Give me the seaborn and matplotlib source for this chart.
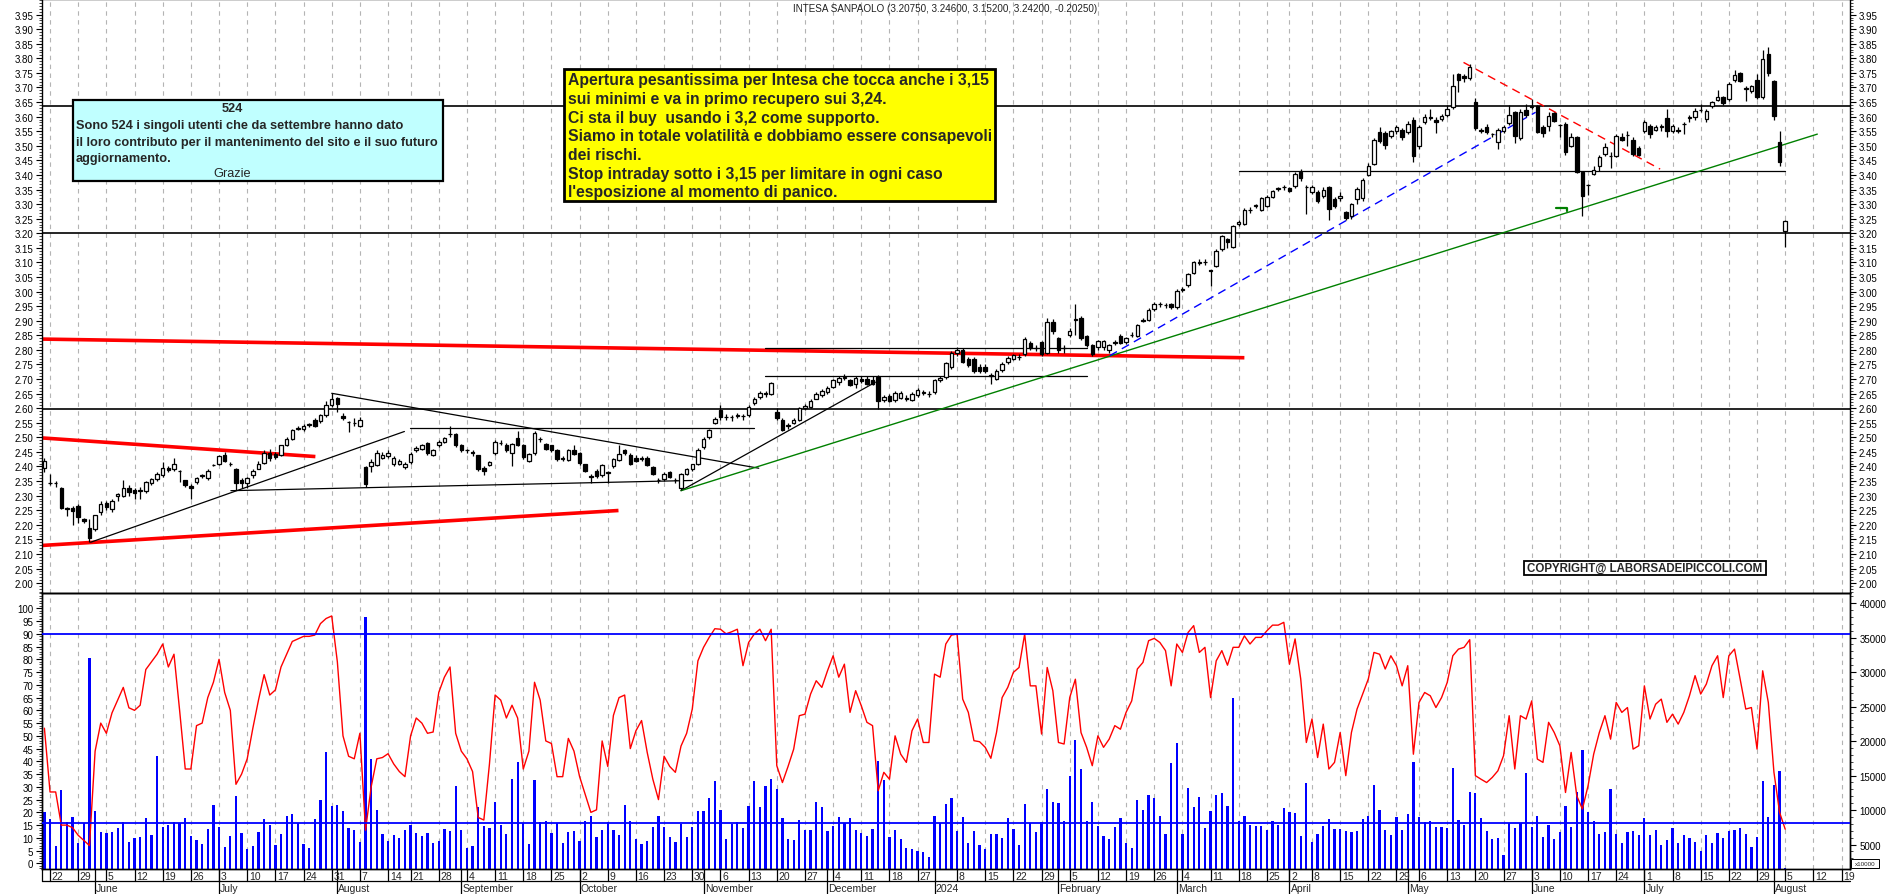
import numpy as np
import pandas as pd
import matplotlib
matplotlib.use("Agg")
import matplotlib.pyplot as plt
import matplotlib.transforms as mtrans
from matplotlib.patches import Rectangle
from matplotlib.ticker import FixedLocator, MultipleLocator, FormatStrFormatter
from matplotlib import font_manager
import seaborn as sns

# ---------------- dati ----------------
start_day, last_day, future_end = "2023-05-19", "2024-08-05", "2024-08-19"
holidays = ["2023-08-15", "2023-12-25", "2023-12-26", "2024-01-01",
            "2024-03-29", "2024-04-01", "2024-05-01"]

opens = [
    2.395, 2.345, 2.345, 2.325, 2.258, 2.258, 2.264, 2.22, 2.19, 2.187,
    2.243, 2.274, 2.254, 2.298, 2.30, 2.327, 2.318, 2.317, 2.315, 2.344,
    2.358, 2.372, 2.394, 2.393, 2.385, 2.352, 2.333, 2.348, 2.366, 2.36,
    2.404, 2.41, 2.44, 2.41, 2.392, 2.352, 2.343, 2.371, 2.392, 2.412,
    2.447, 2.443, 2.441, 2.475, 2.495, 2.53, 2.527, 2.543, 2.561, 2.555,
    2.578, 2.612, 2.634, 2.572, 2.553, 2.55, 2.538, 2.398, 2.40, 2.406,
    2.43, 2.436, 2.41, 2.41, 2.398, 2.415, 2.455, 2.46, 2.481, 2.44,
    2.472, 2.483, 2.51, 2.512, 2.474, 2.456, 2.448, 2.438, 2.394, 2.406,
    2.447, 2.48, 2.472, 2.447, 2.497, 2.474, 2.42, 2.447, 2.495, 2.478,
    2.472, 2.455, 2.428, 2.423, 2.458, 2.447, 2.409, 2.369, 2.383, 2.372,
    2.38, 2.401, 2.423, 2.455, 2.438, 2.43, 2.43, 2.429, 2.398, 2.353,
    2.358, 2.38, 2.355, 2.326, 2.375, 2.392, 2.409, 2.466, 2.501, 2.55,
    2.595, 2.57, 2.568, 2.574, 2.573, 2.575, 2.618, 2.638, 2.651, 2.649,
    2.586, 2.561, 2.54, 2.55, 2.558, 2.601, 2.604, 2.632, 2.646, 2.655,
    2.672, 2.689, 2.703, 2.695, 2.684, 2.701, 2.701, 2.695, 2.706, 2.629,
    2.641, 2.629, 2.634, 2.633, 2.629, 2.644, 2.653, 2.65, 2.655, 2.695,
    2.706, 2.741, 2.79, 2.798, 2.769, 2.769, 2.741, 2.741, 2.71, 2.701,
    2.731, 2.758, 2.769, 2.774, 2.786, 2.823, 2.805, 2.826, 2.79, 2.897,
    2.84, 2.805, 2.852, 2.903, 2.909, 2.847, 2.817, 2.809, 2.809, 2.798,
    2.825, 2.847, 2.826, 2.851, 2.849, 2.90, 2.904, 2.941, 2.957, 2.953,
    2.958, 2.946, 3.006, 3.022, 3.064, 3.099, 3.101, 3.074, 3.089, 3.146,
    3.18, 3.152, 3.231, 3.232, 3.28, 3.294, 3.281, 3.295, 3.323, 3.353,
    3.359, 3.354, 3.361, 3.411, 3.357, 3.34, 3.343, 3.329, 3.358, 3.318,
    3.32, 3.272, 3.258, 3.318, 3.32, 3.401, 3.438, 3.549, 3.544, 3.533,
    3.55, 3.554, 3.546, 3.59, 3.50, 3.583, 3.597, 3.59, 3.592, 3.606,
    3.632, 3.746, 3.74, 3.733, 3.649, 3.553, 3.565, 3.541, 3.512, 3.552,
    3.578, 3.615, 3.527, 3.623, 3.634, 3.635, 3.563, 3.569, 3.611, 3.572,
    3.575, 3.50, 3.529, 3.411, 3.366, 3.403, 3.43, 3.472, 3.465, 3.464,
    3.529, 3.536, 3.521, 3.491, 3.552, 3.569, 3.555, 3.565, 3.595, 3.552,
    3.553, 3.574, 3.597, 3.598, 3.622, 3.592, 3.638, 3.658, 3.666, 3.661,
    3.727, 3.75, 3.696, 3.689, 3.726, 3.666, 3.815, 3.723, 3.512, 3.2075,
]
highs = [
    2.43, 2.375, 2.35, 2.328, 2.262, 2.265, 2.27, 2.222, 2.22, 2.235,
    2.28, 2.28, 2.29, 2.31, 2.352, 2.338, 2.325, 2.33, 2.35, 2.36,
    2.38, 2.415, 2.40, 2.428, 2.388, 2.355, 2.34, 2.365, 2.375, 2.39,
    2.41, 2.44, 2.45, 2.415, 2.395, 2.36, 2.363, 2.39, 2.42, 2.455,
    2.46, 2.45, 2.475, 2.50, 2.53, 2.54, 2.545, 2.55, 2.565, 2.58,
    2.623, 2.651, 2.638, 2.583, 2.556, 2.565, 2.57, 2.40, 2.425, 2.455,
    2.45, 2.455, 2.435, 2.425, 2.415, 2.45, 2.47, 2.478, 2.485, 2.46,
    2.49, 2.50, 2.54, 2.515, 2.478, 2.46, 2.455, 2.44, 2.40, 2.42,
    2.49, 2.49, 2.48, 2.48, 2.52, 2.478, 2.445, 2.523, 2.50, 2.482,
    2.475, 2.46, 2.435, 2.46, 2.475, 2.45, 2.41, 2.375, 2.39, 2.41,
    2.385, 2.43, 2.475, 2.46, 2.445, 2.44, 2.435, 2.435, 2.40, 2.36,
    2.38, 2.385, 2.36, 2.378, 2.395, 2.41, 2.462, 2.50, 2.53, 2.57,
    2.61, 2.58, 2.575, 2.585, 2.58, 2.61, 2.64, 2.66, 2.66, 2.69,
    2.60, 2.565, 2.55, 2.565, 2.605, 2.615, 2.63, 2.655, 2.665, 2.675,
    2.70, 2.71, 2.718, 2.70, 2.71, 2.712, 2.712, 2.712, 2.715, 2.645,
    2.648, 2.66, 2.66, 2.645, 2.655, 2.67, 2.664, 2.66, 2.70, 2.71,
    2.76, 2.795, 2.81, 2.805, 2.775, 2.775, 2.75, 2.75, 2.72, 2.735,
    2.76, 2.78, 2.785, 2.785, 2.845, 2.83, 2.815, 2.83, 2.91, 2.905,
    2.845, 2.815, 2.875, 2.958, 2.915, 2.85, 2.82, 2.835, 2.835, 2.82,
    2.835, 2.855, 2.845, 2.86, 2.89, 2.91, 2.945, 2.965, 2.965, 2.962,
    2.962, 3.01, 3.015, 3.065, 3.105, 3.11, 3.11, 3.075, 3.145, 3.195,
    3.185, 3.23, 3.245, 3.285, 3.29, 3.30, 3.325, 3.33, 3.35, 3.36,
    3.365, 3.36, 3.41, 3.42, 3.365, 3.365, 3.35, 3.36, 3.362, 3.325,
    3.34, 3.278, 3.305, 3.36, 3.39, 3.44, 3.525, 3.565, 3.55, 3.555,
    3.57, 3.56, 3.585, 3.60, 3.57, 3.61, 3.625, 3.60, 3.61, 3.64,
    3.745, 3.75, 3.745, 3.78, 3.665, 3.56, 3.575, 3.545, 3.56, 3.57,
    3.64, 3.62, 3.625, 3.645, 3.66, 3.64, 3.57, 3.615, 3.615, 3.575,
    3.58, 3.545, 3.535, 3.415, 3.37, 3.43, 3.47, 3.51, 3.48, 3.54,
    3.545, 3.55, 3.53, 3.50, 3.59, 3.575, 3.57, 3.575, 3.625, 3.575,
    3.565, 3.58, 3.605, 3.63, 3.645, 3.625, 3.655, 3.69, 3.67, 3.72,
    3.76, 3.752, 3.705, 3.71, 3.745, 3.83, 3.84, 3.725, 3.55, 3.246,
]
lows = [
    2.38, 2.335, 2.33, 2.255, 2.23, 2.198, 2.205, 2.205, 2.14, 2.18,
    2.235, 2.25, 2.245, 2.28, 2.295, 2.30, 2.29, 2.29, 2.31, 2.338,
    2.35, 2.365, 2.38, 2.385, 2.348, 2.33, 2.287, 2.34, 2.36, 2.355,
    2.40, 2.405, 2.415, 2.40, 2.32, 2.326, 2.325, 2.36, 2.39, 2.41,
    2.42, 2.425, 2.435, 2.47, 2.49, 2.525, 2.52, 2.535, 2.535, 2.55,
    2.57, 2.605, 2.588, 2.56, 2.518, 2.54, 2.535, 2.33, 2.38, 2.40,
    2.425, 2.43, 2.40, 2.405, 2.39, 2.41, 2.45, 2.455, 2.44, 2.435,
    2.468, 2.48, 2.50, 2.468, 2.45, 2.445, 2.435, 2.385, 2.37, 2.40,
    2.44, 2.475, 2.45, 2.40, 2.47, 2.425, 2.415, 2.44, 2.485, 2.455,
    2.45, 2.42, 2.42, 2.42, 2.44, 2.405, 2.38, 2.345, 2.36, 2.365,
    2.345, 2.395, 2.42, 2.44, 2.405, 2.415, 2.42, 2.40, 2.37, 2.345,
    2.35, 2.36, 2.345, 2.318, 2.37, 2.385, 2.405, 2.46, 2.495, 2.545,
    2.56, 2.56, 2.555, 2.565, 2.56, 2.57, 2.61, 2.63, 2.64, 2.645,
    2.56, 2.52, 2.53, 2.545, 2.555, 2.595, 2.60, 2.63, 2.64, 2.65,
    2.67, 2.68, 2.695, 2.675, 2.67, 2.688, 2.68, 2.68, 2.598, 2.62,
    2.62, 2.62, 2.63, 2.625, 2.625, 2.64, 2.645, 2.64, 2.65, 2.69,
    2.70, 2.735, 2.78, 2.755, 2.74, 2.72, 2.72, 2.72, 2.684, 2.695,
    2.725, 2.75, 2.765, 2.765, 2.78, 2.80, 2.795, 2.78, 2.785, 2.855,
    2.79, 2.79, 2.845, 2.85, 2.835, 2.81, 2.78, 2.80, 2.80, 2.79,
    2.815, 2.82, 2.82, 2.845, 2.845, 2.895, 2.90, 2.935, 2.948, 2.945,
    2.94, 2.94, 3.0, 3.015, 3.06, 3.09, 3.09, 3.02, 3.085, 3.14,
    3.15, 3.15, 3.225, 3.228, 3.27, 3.285, 3.275, 3.29, 3.32, 3.345,
    3.35, 3.34, 3.355, 3.38, 3.266, 3.335, 3.305, 3.32, 3.246, 3.285,
    3.31, 3.245, 3.25, 3.30, 3.31, 3.395, 3.435, 3.51, 3.49, 3.525,
    3.54, 3.52, 3.54, 3.445, 3.49, 3.575, 3.59, 3.545, 3.585, 3.60,
    3.625, 3.685, 3.72, 3.725, 3.555, 3.545, 3.54, 3.53, 3.49, 3.545,
    3.57, 3.51, 3.52, 3.60, 3.625, 3.545, 3.53, 3.55, 3.58, 3.53,
    3.47, 3.495, 3.405, 3.26, 3.33, 3.40, 3.415, 3.465, 3.425, 3.46,
    3.515, 3.50, 3.465, 3.465, 3.545, 3.525, 3.55, 3.55, 3.53, 3.545,
    3.545, 3.54, 3.58, 3.59, 3.615, 3.58, 3.63, 3.655, 3.64, 3.655,
    3.72, 3.72, 3.655, 3.68, 3.66, 3.66, 3.74, 3.59, 3.43, 3.152,
]
closes = [
    2.418, 2.342, 2.343, 2.258, 2.255, 2.248, 2.225, 2.212, 2.155, 2.232,
    2.27, 2.262, 2.283, 2.306, 2.325, 2.313, 2.31, 2.318, 2.348, 2.357,
    2.375, 2.395, 2.388, 2.41, 2.383, 2.335, 2.327, 2.36, 2.371, 2.386,
    2.406, 2.437, 2.418, 2.408, 2.343, 2.344, 2.36, 2.384, 2.409, 2.446,
    2.43, 2.433, 2.472, 2.495, 2.526, 2.532, 2.54, 2.544, 2.54, 2.577,
    2.611, 2.632, 2.615, 2.566, 2.552, 2.549, 2.561, 2.341, 2.417, 2.446,
    2.44, 2.447, 2.428, 2.42, 2.41, 2.443, 2.464, 2.472, 2.447, 2.455,
    2.483, 2.497, 2.512, 2.472, 2.458, 2.455, 2.447, 2.392, 2.386, 2.415,
    2.485, 2.481, 2.455, 2.478, 2.472, 2.432, 2.443, 2.514, 2.494, 2.46,
    2.458, 2.426, 2.427, 2.455, 2.443, 2.411, 2.386, 2.363, 2.367, 2.406,
    2.377, 2.424, 2.443, 2.447, 2.409, 2.42, 2.425, 2.404, 2.373, 2.352,
    2.373, 2.364, 2.354, 2.375, 2.39, 2.407, 2.458, 2.495, 2.524, 2.564,
    2.568, 2.569, 2.569, 2.575, 2.572, 2.604, 2.632, 2.653, 2.65, 2.687,
    2.566, 2.526, 2.541, 2.561, 2.601, 2.606, 2.626, 2.649, 2.66, 2.669,
    2.696, 2.703, 2.706, 2.678, 2.703, 2.692, 2.684, 2.684, 2.626, 2.64,
    2.626, 2.653, 2.653, 2.632, 2.647, 2.661, 2.655, 2.649, 2.695, 2.704,
    2.754, 2.789, 2.80, 2.758, 2.749, 2.726, 2.726, 2.726, 2.714, 2.729,
    2.752, 2.773, 2.781, 2.775, 2.838, 2.806, 2.806, 2.786, 2.895, 2.863,
    2.798, 2.806, 2.866, 2.904, 2.84, 2.817, 2.786, 2.829, 2.829, 2.815,
    2.826, 2.824, 2.84, 2.852, 2.886, 2.901, 2.938, 2.957, 2.958, 2.954,
    2.946, 3.003, 3.007, 3.06, 3.10, 3.10, 3.10, 3.07, 3.14, 3.19,
    3.17, 3.226, 3.24, 3.28, 3.281, 3.295, 3.32, 3.323, 3.346, 3.354,
    3.36, 3.346, 3.403, 3.388, 3.358, 3.358, 3.312, 3.35, 3.283, 3.293,
    3.329, 3.251, 3.30, 3.352, 3.381, 3.432, 3.52, 3.518, 3.504, 3.55,
    3.563, 3.529, 3.575, 3.464, 3.566, 3.598, 3.598, 3.58, 3.601, 3.626,
    3.704, 3.727, 3.734, 3.771, 3.56, 3.552, 3.548, 3.54, 3.554, 3.563,
    3.606, 3.532, 3.615, 3.606, 3.635, 3.549, 3.544, 3.601, 3.586, 3.571,
    3.478, 3.529, 3.409, 3.329, 3.367, 3.418, 3.46, 3.495, 3.464, 3.533,
    3.521, 3.537, 3.472, 3.469, 3.58, 3.54, 3.563, 3.566, 3.55, 3.569,
    3.552, 3.575, 3.598, 3.62, 3.623, 3.62, 3.649, 3.666, 3.647, 3.712,
    3.743, 3.723, 3.697, 3.704, 3.669, 3.798, 3.75, 3.603, 3.446, 3.242,
]
rsi = [
    53, 28, 28, 15, 15, 14, 11, 9, 7, 44,
    55, 51, 59, 64, 69, 61, 60, 62, 76, 79,
    82, 86, 77, 82, 60, 37, 37, 54, 55, 65,
    71, 80, 67, 60, 31, 35, 41, 53, 64, 74,
    66, 68, 77, 82, 87, 88, 89, 89, 89.5, 94,
    96, 97, 79, 50, 42, 41, 51, 13, 30, 41,
    41.5, 43, 39, 36, 34, 50, 57, 55, 51, 51.5,
    67, 73, 77, 51, 44, 41, 36, 18, 17, 39,
    66, 64, 57, 62, 57, 37, 44, 71, 64, 48,
    47, 34, 34, 49, 44, 34, 27, 20, 21, 48,
    38, 58, 65, 66, 45, 52, 56, 43.5, 33, 25,
    42, 38, 35.7, 46, 51, 60.5, 79.4, 84.7, 88.6, 92,
    91.8, 90, 90.8, 91.8, 77.5, 86.6, 89.9, 91.8, 87.3, 91.8,
    38.3, 31.7, 38, 44.8, 57.9, 58.5, 66.4, 71.6, 69, 75.5,
    81.4, 73, 78.1, 59.2, 67.7, 61.8, 55.3, 54, 28.5, 35.7,
    33, 50, 42.8, 39.6, 52, 56.6, 47.4, 47.4, 74.2, 73,
    86, 89.5, 89.9, 64.4, 59.2, 48.1, 47.7, 45.5, 41.2, 51.3,
    65, 69, 74.9, 76.8, 89.9, 69.6, 69.6, 50.7, 76.8, 67.7,
    47.4, 46.8, 65, 72.2, 51.3, 45.5, 38.3, 50, 45.5, 48.7,
    54, 52.6, 59.2, 63.7, 76.2, 78.8, 87.3, 88.2, 86.6, 83.4,
    69.6, 86, 82.7, 90.5, 93.2, 82.7, 84.7, 65, 79.4, 83.4,
    77.7, 84.7, 84.7, 89.2, 86, 88.6, 88.6, 91.2, 93.4, 93.4,
    94.5, 78.1, 88, 72.3, 47.4, 56.6, 41.5, 54.6, 37, 39.6,
    51.3, 34.4, 51.3, 60.5, 66.4, 72.3, 82.7, 82, 76.2, 81.4,
    77.5, 69.6, 77.5, 42.8, 63.1, 67, 65.7, 61.1, 65, 70.9,
    81.4, 84, 84.7, 87.7, 34.4, 33, 31.7, 33.7, 36.3, 42.2,
    57.9, 37, 57.9, 56.6, 63.7, 40.9, 39.6, 55.3, 51.3, 46.1,
    27.8, 43.5, 26.5, 21.3, 30.4, 42.8, 51.3, 57.9, 48.7, 63.1,
    59.2, 61.1, 44.8, 46.1, 69.6, 56.6, 62.4, 64.4, 55.3, 58.5,
    54.6, 59.2, 65.7, 73.6, 66.4, 70.3, 77.5, 81.4, 65, 81.4,
    84, 72.3, 60.5, 61.1, 44.8, 75.5, 63.1, 35.7, 20, 13.4,
]
volume = [
    9670, 8700, 4840, 12950, 8310, 9040, 5220, 8120, 31980, 9910,
    6870, 6620, 6870, 7400, 8220, 5420, 6000, 6140, 8850, 6430,
    17780, 7490, 7880, 8220, 8120, 8850, 6290, 5710, 5080, 7250,
    10730, 7490, 4690, 6290, 12080, 6670, 4350, 4790, 6870, 8700,
    7830, 4930, 6530, 9090, 9420, 8070, 5030, 4450, 8700, 11450,
    18460, 10540, 10730, 9860, 7400, 7160, 5320, 38000, 17390, 10000,
    6480, 5560, 6380, 5900, 7110, 7830, 6720, 6290, 6620, 5170,
    5560, 7250, 7010, 13430, 7160, 4450, 4840, 10490, 7730, 7400,
    11120, 7830, 6530, 14500, 16910, 8120, 5080, 14350, 8310, 8410,
    6720, 8120, 5220, 6770, 6960, 5560, 8360, 9090, 6040, 7110,
    8220, 7160, 6380, 10730, 8360, 5800, 5080, 5560, 7490, 9090,
    7490, 6040, 5420, 7970, 6140, 7490, 9810, 9810, 11690, 14160,
    10000, 5800, 7970, 8220, 7400, 10540, 14160, 10390, 13530, 14500,
    13050, 8800, 5800, 5660, 8560, 7110, 7160, 11210, 10390, 6960,
    7640, 9040, 8070, 8800, 7060, 6670, 6290, 7250, 17150, 14350,
    6040, 7110, 5800, 4450, 4350, 4020, 3870, 3240, 9180, 8070,
    10870, 11740, 7010, 8940, 5220, 6960, 4930, 4350, 6530, 6530,
    5950, 8850, 7250, 4930, 10870, 8120, 6770, 8310, 13050, 11210,
    10970, 8360, 14880, 20150, 15950, 8360, 11210, 7640, 6290, 5800,
    7490, 8850, 5170, 4450, 11450, 10000, 12230, 11740, 9180, 6530,
    16810, 19710, 6530, 13190, 10490, 11840, 7350, 9810, 12230, 12420,
    10630, 26190, 8460, 9090, 7880, 7640, 7640, 7160, 8360, 7830,
    10250, 9760, 9570, 6290, 13920, 5420, 6530, 7730, 8700, 7250,
    7250, 7010, 6770, 6960, 8700, 9180, 13630, 10000, 7110, 6430,
    8940, 7110, 9420, 17010, 8940, 8310, 8360, 7490, 7490, 7350,
    16090, 8560, 7830, 12660, 12470, 8850, 6960, 5800, 5950, 3480,
    8120, 7350, 8070, 15370, 7490, 9180, 6140, 7830, 5800, 6770,
    10540, 7490, 12660, 18700, 9760, 8460, 6530, 6770, 13050, 6530,
    5220, 6770, 7010, 6380, 8850, 6430, 7110, 4980, 5660, 7350,
    5170, 6430, 5950, 5320, 4020, 6430, 5170, 6620, 5950, 7010,
    7110, 7350, 6530, 4690, 6040, 14160, 9040, 13630, 15610, 1550,
]

# livelli orizzontali e trendline (giorno di borsa, prezzo)
full_levels = [3.637, 3.20, 2.598]
thin_black = [
    (8.2, 2.140, 63.9, 2.520),
    (33.1, 2.317, 115.0, 2.352),
    (51.0, 2.651, 126.8, 2.394),
    (64.9, 2.532, 125.9, 2.532),
    (113.0, 2.317, 147.5, 2.689),
    (127.9, 2.712, 185.0, 2.712),
    (127.9, 2.806, 185.0, 2.806),
    (212.0, 3.415, 309.0, 3.415),
]
thick_red = [
    (-0.5, 2.837, 213.0, 2.773),
    (-0.5, 2.498, 48.1, 2.434),
    (-0.5, 2.129, 101.9, 2.249),
]
green_line = (113.0, 2.317, 314.7, 3.540)
blue_dashed = (189.1, 2.780, 264.7, 3.615)
red_dashed = (251.9, 3.786, 286.8, 3.420)
rsi_levels = [90, 15.7]

title = "INTESA SANPAOLO (3.20750, 3.24600, 3.15200, 3.24200, -0.20250)"
box_cyan = ["524",
            "Sono 524 i singoli utenti che da settembre hanno dato",
            "il loro contributo per il mantenimento del sito e il suo futuro",
            "aggiornamento.",
            "Grazie"]
box_yellow = ["Apertura pesantissima per Intesa che tocca anche i 3,15",
              "sui minimi e va in primo recupero sui 3,24.",
              "Ci sta il buy  usando i 3,2 come supporto.",
              "Siamo in totale volatilità e dobbiamo essere consapevoli",
              "dei rischi.",
              "Stop intraday sotto i 3,15 per limitare in ogni caso",
              "l'esposizione al momento di panico."]
copyright_txt = "COPYRIGHT@ LABORSADEIPICCOLI.COM"

# ---------------- calendario ----------------
days = pd.bdate_range(start_day, last_day)
days = days[~days.isin(pd.to_datetime(holidays))]
future = pd.bdate_range(pd.Timestamp(last_day) + pd.Timedelta(days=1), future_end)
all_days = days.append(future)
n = len(days)
idx = np.arange(n)
assert len(opens) == len(highs) == len(lows) == len(closes) == len(rsi) == len(volume) == n

week_starts, month_starts = [], []
for i in range(1, len(all_days)):
    d, p = all_days[i], all_days[i - 1]
    if d.month != p.month:
        month_starts.append((i, "2024" if d.year != p.year else d.strftime("%B")))
    if d.weekday() < p.weekday() and d.year == p.year:
        week_starts.append((i, str(d.day)))

# ---------------- stile ----------------
sns.set_theme(style="white")
plt.rcParams['font.family'] = ['Liberation Sans', 'DejaVu Sans']
avail = {f.name for f in font_manager.fontManager.ttflist}
narrow = 'Liberation Sans Narrow' in avail

W, H = 1890, 895
X0, X1 = 41.7, 1850
fig = plt.figure(figsize=(W / 100, H / 100), dpi=100)
fig.patch.set_facecolor("white")
ax = fig.add_axes([X0 / W, 1 - 594 / H, (X1 - X0) / W, 594 / H])
ax_r = fig.add_axes([X0 / W, 1 - 870 / H, (X1 - X0) / W, 276 / H])
ax_v = ax_r.twinx()
xlim = (-0.48, 320.5)

grid_kw = dict(color="#b4b4b4", lw=0.8, ls=(0, (4, 4)), zorder=0)

# ---- pannello prezzi ----
for i, _ in week_starts:
    ax.axvline(i, **grid_kw)
for y in full_levels:
    ax.axhline(y, color="black", lw=1.2, zorder=2)
for x0, y0, x1, y1 in thick_red:
    ax.plot([x0, x1], [y0, y1], color="#ff0000", lw=2.6, solid_capstyle="butt", zorder=2)
for x0, y0, x1, y1 in thin_black:
    ax.plot([x0, x1], [y0, y1], color="black", lw=0.9, zorder=2)
ax.plot(green_line[::2], green_line[1::2], color="#008000", lw=1.0, zorder=2)
ax.plot(blue_dashed[::2], blue_dashed[1::2], color="#0000ff", lw=1.0, ls=(0, (6, 4)), zorder=2)
ax.plot(red_dashed[::2], red_dashed[1::2], color="#ff0000", lw=1.0, ls=(0, (6, 4)), zorder=2)
ax.plot([268.3, 270.3, 270.3], [3.287, 3.287, 3.276], color="#008000", lw=1.6, zorder=3)

o, h, l, c = map(np.array, (opens, highs, lows, closes))
up = c >= o
ax.vlines(idx, l, h, color="black", lw=0.9, zorder=3)
body = np.maximum(np.abs(c - o), 0.0012)
ax.bar(idx, body, bottom=np.minimum(o, c), width=0.62,
       color=np.where(up, "white", "black"), edgecolor="black", linewidth=0.9, zorder=4)

ax.set_xlim(*xlim)
ax.set_ylim(1.966, 4.0035)
ax.yaxis.set_major_locator(FixedLocator(np.round(np.arange(2.0, 3.951, 0.05), 2)))
ax.yaxis.set_major_formatter(FormatStrFormatter("%.2f"))
ax.yaxis.set_minor_locator(MultipleLocator(0.01))
ax.tick_params(axis="y", which="major", direction="out", length=4, width=0.8,
               left=True, right=True, labelleft=True, labelright=True,
               labelsize=7, pad=2, colors="black")
ax.tick_params(axis="y", which="minor", direction="out", length=2, width=0.6,
               left=True, right=True)
ax.set_xticks([])

# ---- pannello RSI / volumi ----
for i, _ in week_starts:
    ax_v.axvline(i, **grid_kw)
sns.barplot(x=idx, y=volume, native_scale=True, width=0.4, color="#0000ff",
            saturation=1, errorbar=None, linewidth=0, ax=ax_v, zorder=2)
sns.lineplot(x=idx, y=rsi, color="#ff0000", lw=1.0, ax=ax_r, zorder=3)
for y in rsi_levels:
    ax_r.axhline(y, color="#0000ff", lw=1.3, zorder=4)

ax_r.set_zorder(ax_v.get_zorder() + 1)
ax_r.patch.set_visible(False)
ax_v.patch.set_facecolor("white")

for a in (ax_r, ax_v):
    a.set_xlim(*xlim)
    a.set_xticks([])
    a.set_xlabel("")
    a.set_ylabel("")
ax_r.set_ylim(-2.2, 106)
ax_v.set_ylim(1450, 41450)
ax_r.yaxis.set_major_locator(FixedLocator(np.arange(0, 101, 5)))
ax_r.yaxis.set_minor_locator(MultipleLocator(1))
ax_r.tick_params(axis="y", which="major", direction="out", length=4, width=0.8,
                 left=True, right=False, labelsize=7, pad=2, colors="black")
ax_r.tick_params(axis="y", which="minor", direction="out", length=2, width=0.6,
                 left=True, right=False)
ax_v.yaxis.set_major_locator(FixedLocator(np.arange(5000, 40001, 5000)))
ax_v.yaxis.set_minor_locator(MultipleLocator(1000))
ax_v.tick_params(axis="y", which="major", direction="out", length=4, width=0.8,
                 left=False, right=True, labelright=True, labelleft=False,
                 labelsize=7, pad=3, colors="black")
ax_v.tick_params(axis="y", which="minor", direction="out", length=2, width=0.6,
                 left=False, right=True)

for a in (ax, ax_r, ax_v):
    for s in a.spines.values():
        s.set_visible(True)
        s.set_color("black")
        s.set_linewidth(1.0)

# ---- asse date ----
tr = mtrans.blended_transform_factory(ax_r.transData, ax_r.transAxes)
fr = lambda ypx: (870 - ypx) / 276
lk = dict(transform=tr, clip_on=False, color="black", lw=0.9)
ax_r.plot([xlim[0], xlim[1]], [fr(882.3), fr(882.3)], **lk)
ax_r.plot([xlim[0], xlim[0]], [fr(870), fr(882.3)], **lk)
for i, lab in week_starts:
    ax_r.plot([i, i], [fr(870), fr(882.3)], **lk)
    ax_r.text(i + 0.3, fr(876.6), lab, transform=tr, fontsize=7.5,
              ha="left", va="center", clip_on=False)
for i, lab in month_starts:
    ax_r.plot([i, i], [fr(870), fr(895)], **lk)
    ax_r.text(i + 0.2, fr(889.2), lab, transform=tr, fontsize=7.5,
              ha="left", va="center", clip_on=False)

# ---- riquadri di testo ----
def fx(px):
    return px / W


def fy(py):
    return 1 - py / H


fig.text(fx(945), fy(8.5), title, ha="center", va="center", fontsize=7.1, color="#202020")

fig.add_artist(Rectangle((fx(72.7), fy(181.7)), fx(443) - fx(72.7), fy(100.7) - fy(181.7),
                         transform=fig.transFigure, facecolor="#c0ffff",
                         edgecolor="black", lw=1.6, zorder=5))
cy_font = dict(family=['Liberation Sans Narrow', 'Liberation Sans'], fontsize=9.4) if narrow \
    else dict(family=['Liberation Sans'], fontsize=9.2)
cyan_y = [109.5, 125.7, 142.7, 159.0, 174.3]
for k, (txt, yy) in enumerate(zip(box_cyan, cyan_y)):
    centered = k in (0, len(box_cyan) - 1)
    fig.text(fx(232 if centered else 76.0), fy(yy), txt, ha="center" if centered else "left",
             va="center", fontweight="normal" if k == len(box_cyan) - 1 else "bold",
             zorder=6, **cy_font)

fig.add_artist(Rectangle((fx(564), fy(202)), fx(995) - fx(564), fy(70) - fy(202),
                         transform=fig.transFigure, facecolor="#ffff00",
                         edgecolor="black", lw=2.0, zorder=5))
for k, txt in enumerate(box_yellow):
    fig.text(fx(567.5), fy(81 + 18.6 * k), txt, ha="left", va="center",
             fontsize=11.3, fontweight="bold", zorder=6)

fig.add_artist(Rectangle((fx(1524), fy(575.7)), fx(1766) - fx(1524), fy(561.7) - fy(575.7),
                         transform=fig.transFigure, facecolor="white",
                         edgecolor="black", lw=1.3, zorder=5))
fig.text(fx(1645), fy(568.7), copyright_txt, ha="center", va="center",
         fontsize=8.3, fontweight="bold", zorder=6)

fig.add_artist(Rectangle((fx(1851), fy(869)), fx(1879) - fx(1851), fy(860) - fy(869),
                         transform=fig.transFigure, facecolor="white",
                         edgecolor="black", lw=0.7, zorder=5))
fig.text(fx(1865), fy(864.5), "x10000", ha="center", va="center", fontsize=4.5, zorder=6)

fig.savefig("out.png", dpi=100, facecolor="white")
